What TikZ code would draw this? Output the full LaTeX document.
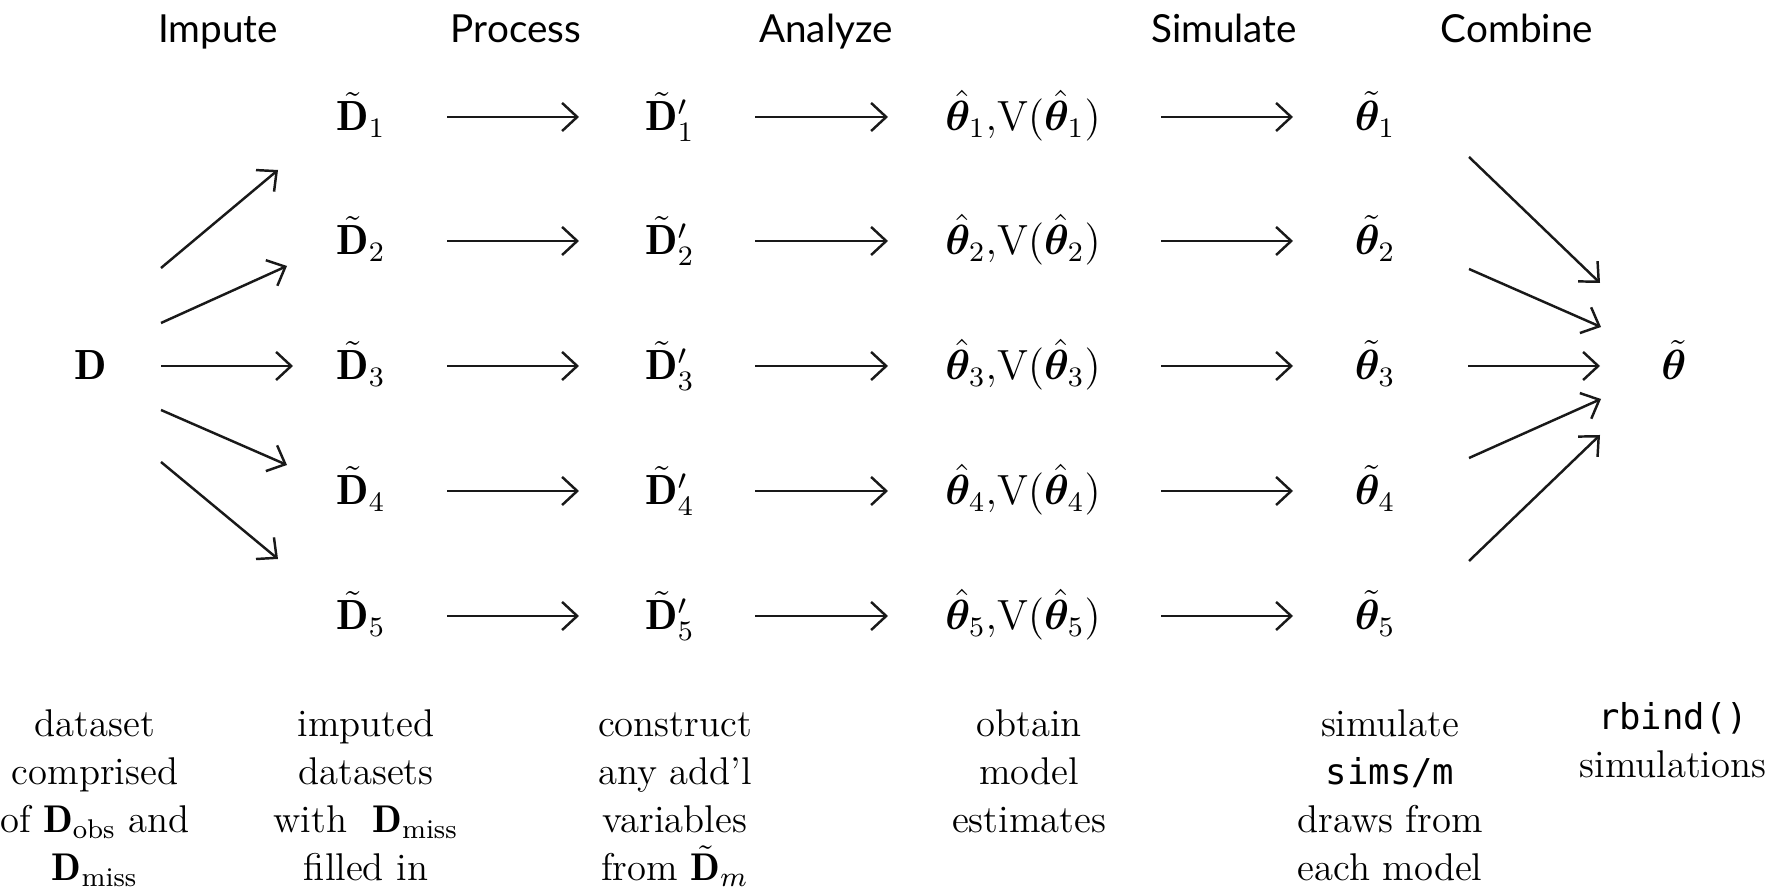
\documentclass[tikz,border=0pt]{standalone}
\usepackage{amsmath,amssymb,bm}
\usepackage{fontspec}
\newfontfamily\headfont{Lato}
\newfontfamily\codefont{DejaVu Sans Mono}[Scale=0.92]
\usetikzlibrary{arrows.meta}
\begin{document}
\begin{tikzpicture}[x=0.1mm,y=-0.1mm,
  head/.style={font=\headfont\fontsize{11}{13}\selectfont, anchor=base, inner sep=0pt},
  mth/.style={font=\fontsize{12}{14}\selectfont, anchor=base, inner sep=0pt},
  desc/.style={font=\fontsize{11}{13.66}\selectfont, align=center, anchor=base, inner sep=0pt},
  arr/.style={-{Straight Barb[length=4.3pt,width=8pt]}, line width=0.7pt, draw=black!90}]
\useasboundingbox (0,0) rectangle (1773,895);
% headers
\node[head] (hImp) at (218,43) {Impute};
\node[head] (hPro) at (516,43) {Process};
\node[head] (hAna) at (826,43) {Analyze};
\node[head] (hSim) at (1224,43) {Simulate};
\node[head] (hCom) at (1517,43) {Combine};
% source
\node[mth] (D) at (91,380) {$\mathbf{D}$};
% rows
\foreach \i/\y in {1/117,2/241,3/366,4/491,5/616}{
  \node[mth] (Dt\i) at (361,\y+14) {$\tilde{\mathbf{D}}_{\i}$};
  \node[mth] (Dp\i) at (670,\y+14) {$\tilde{\mathbf{D}}'_{\i}$};
  \node[mth] (Th\i) at (1023,\y+14) {$\hat{\bm{\theta}}_{\i}{,}\mathrm{V}(\hat{\bm{\theta}}_{\i})$};
  \node[mth] (Tt\i) at (1375,\y+14) {$\tilde{\bm{\theta}}_{\i}$};
  \coordinate (a\i) at (447,\y); \coordinate (b\i) at (579,\y);
  \coordinate (c\i) at (755,\y); \coordinate (d\i) at (888,\y);
  \coordinate (e\i) at (1161,\y); \coordinate (f\i) at (1293,\y);
  \draw[arr] (a\i) -- (b\i);
  \draw[arr] (c\i) -- (d\i);
  \draw[arr] (e\i) -- (f\i);
}
\node[mth] (T) at (1674,380) {$\tilde{\bm{\theta}}$};
% fan out
\coordinate (s1) at (161,268); \coordinate (t1) at (278,170);
\coordinate (s2) at (161,323); \coordinate (t2) at (287,266);
\coordinate (s3) at (161,366); \coordinate (t3) at (293,366);
\coordinate (s4) at (161,410); \coordinate (t4) at (287,465);
\coordinate (s5) at (161,462); \coordinate (t5) at (278,559);
\foreach \i in {1,...,5}{\draw[arr] (s\i) -- (t\i);}
% fan in
\coordinate (u1) at (1469,157); \coordinate (v1) at (1600,283);
\coordinate (u2) at (1469,269); \coordinate (v2) at (1601,327);
\coordinate (u3) at (1468,366); \coordinate (v3) at (1600,366);
\coordinate (u4) at (1469,458); \coordinate (v4) at (1601,399);
\coordinate (u5) at (1469,561); \coordinate (v5) at (1600,435);
\foreach \i in {1,...,5}{\draw[arr] (u\i) -- (v\i);}
% descriptions (anchor = baseline of last line)
\node[desc] (l1) at (95,881) {dataset\\comprised\\of $\mathbf{D}_{\mathrm{obs}}$ and\\$\mathbf{D}_{\mathrm{miss}}$};
\node[desc] (l2) at (366,881) {imputed\\datasets\\with\ \ $\mathbf{D}_{\mathrm{miss}}$\\filled in};
\node[desc] (l3) at (675,881) {construct\\any add’l\\variables\\from $\tilde{\mathbf{D}}_{m}$};
\node[desc] (l4) at (1029,833) {obtain\\model\\estimates};
\node[desc] (l5) at (1390,881) {simulate\\{\codefont sims/m}\\draws from\\each model};
\node[desc] (l6) at (1673,778) {{\codefont rbind()}\\simulations};
\end{tikzpicture}
\end{document}
